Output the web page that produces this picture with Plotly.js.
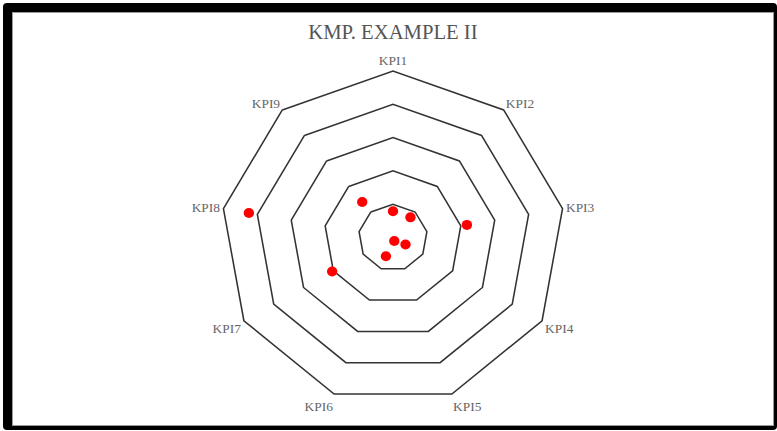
<!DOCTYPE html>
<html>
<head>
<meta charset="utf-8">
<script src="https://cdn.plot.ly/plotly-3.0.1.min.js"></script>
<style>
  html, body { margin: 0; padding: 0; background: #ffffff; width: 777px; height: 431px; overflow: hidden; }
  #frame { position: absolute; left: 3px; top: 3px; width: 774px; height: 427px; background: #000000; border-radius: 4px; }
  #inner { position: absolute; left: 13px; top: 13px; width: 760px; height: 412px; background: #ffffff; box-shadow: 0 0 0 1px #9a9a9a; }
  #chart { position: absolute; left: 13px; top: 13px; width: 760px; height: 412px; transform-origin: 380.5px 0px; transform: scaleX(1.034); }
</style>
</head>
<body>
<div id="frame"></div>
<div id="inner"></div>
<div id="chart"></div>
<script>
const categories = ["KPI1", "KPI2", "KPI3", "KPI4", "KPI5", "KPI6", "KPI7", "KPI8", "KPI9"];
const values = [0.79, 0.79, 2.18, 0.42, 0.11, 0.60, 2.04, 4.25, 1.39];
const radialTicks = [0, 1, 2, 3, 4, 5];
const chartTitle = "KMP. EXAMPLE II";

const trace = {
  type: "scatterpolar",
  mode: "markers",
  r: values,
  theta: categories,
  marker: { color: "#ff0000", size: 10 },
  hoverinfo: "r+theta"
};

const layout = {
  width: 760,
  height: 412,
  paper_bgcolor: "rgba(0,0,0,0)",
  showlegend: false,
  margin: { l: 0, r: 0, t: 58, b: 21 },
  title: {
    text: chartTitle,
    font: { family: "Liberation Serif, Times New Roman, serif", size: 20, color: "#555555" },
    x: 0.5, xanchor: "center",
    y: 1 - 19 / 412, yref: "container", yanchor: "middle"
  },
  polar: {
    bgcolor: "#ffffff",
    gridshape: "linear",
    radialaxis: {
      range: [radialTicks[0], radialTicks[radialTicks.length - 1]],
      tickvals: radialTicks,
      showticklabels: false,
      ticks: "",
      showline: false,
      gridcolor: "#333333",
      gridwidth: 1.5
    },
    angularaxis: {
      direction: "clockwise",
      rotation: 90,
      showgrid: false,
      ticks: "",
      showline: true,
      linecolor: "#333333",
      linewidth: 1.5,
      tickfont: { family: "Liberation Serif, Times New Roman, serif", size: 13, color: "#666666" }
    }
  }
};

Plotly.newPlot("chart", [trace], layout, { displayModeBar: false, staticPlot: true });
</script>
</body>
</html>
